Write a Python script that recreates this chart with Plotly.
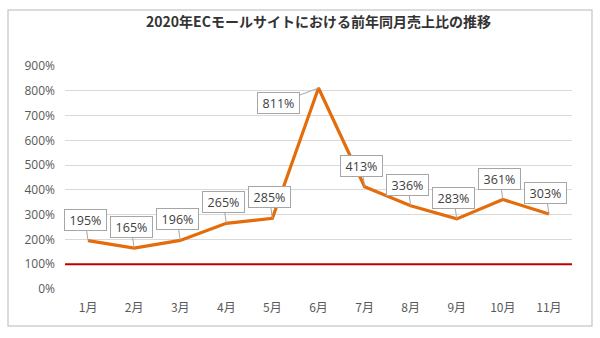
import plotly.graph_objects as go

title = "2020年ECモールサイトにおける前年同月売上比の推移"
months = ["1月", "2月", "3月", "4月", "5月", "6月", "7月", "8月", "9月", "10月", "11月"]
ratio = [195, 165, 196, 265, 285, 811, 413, 336, 283, 361, 303]
baseline = 100
y_ticks = [0, 100, 200, 300, 400, 500, 600, 700, 800, 900]

JP = "Noto Sans CJK JP"
NUM = "Open Sans"

fig = go.Figure()
fig.add_trace(go.Scatter(
    x=months, y=ratio, mode="lines",
    line=dict(color="#E46C0A", width=3.2),
    hoverinfo="skip", showlegend=False,
))

fig.add_hline(y=baseline, line=dict(color="#C00000", width=2), layer="above")

for i, (m, v) in enumerate(zip(months, ratio)):
    ax, ay = -3, -21
    if v == max(ratio):
        ax, ay = -40, 15
    fig.add_annotation(
        x=m, y=v, text=f"{v}%", showarrow=True,
        ax=ax, ay=ay, arrowhead=0, arrowwidth=1, arrowcolor="#A6A6A6",
        standoff=0, startstandoff=0,
        bgcolor="white", bordercolor="#A6A6A6", borderwidth=1, borderpad=2,
        font=dict(family=NUM, size=12.5, color="#404040"),
        width=37, height=16,
    )

# outer chart border
fig.add_shape(type="rect", xref="paper", yref="paper",
              x0=-0.1124, x1=1.0394, y0=-0.166, y1=1.251,
              line=dict(color="#D0D0D0", width=1.5), fillcolor="rgba(0,0,0,0)", layer="below")

fig.update_layout(
    width=600, height=338,
    margin=dict(l=65, r=28, t=66, b=49),
    paper_bgcolor="white", plot_bgcolor="white",
    title=dict(text=title, x=0.5, xref="paper", xanchor="center",
               y=1 - 22 / 338, yanchor="middle", yref="container",
               font=dict(family=JP, size=14, color="#333333", weight="bold")),
    xaxis=dict(
        type="category", range=[-0.5, len(months) - 0.5],
        showgrid=False, zeroline=False, showline=False,
        tickfont=dict(family=JP, size=12, color="#595959"),
        ticklabelstandoff=10,
    ),
    yaxis=dict(
        range=[0, 900], tickvals=y_ticks, ticktext=[f"{t}%" for t in y_ticks],
        showgrid=True, gridcolor="#D9D9D9", gridwidth=1,
        zeroline=False, showline=False,
        tickfont=dict(family=NUM, size=12, color="#595959"),
        ticklabelstandoff=9,
    ),
)

fig.write_html("out.html")
